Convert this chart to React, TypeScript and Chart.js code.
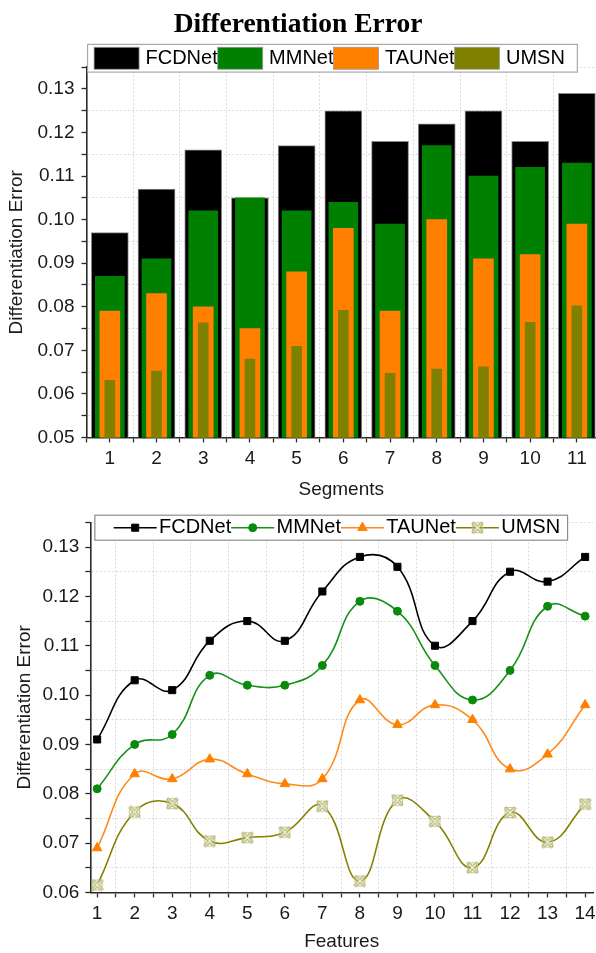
import React, { useEffect, useRef } from 'react';
import { Chart, registerables } from 'chart.js';
import { drawPoint } from 'chart.js/helpers';

Chart.register(...registerables);

// ---------- data: top chart (bars) ----------
const segments = [1, 2, 3, 4, 5, 6, 7, 8, 9, 10, 11];
const barFCDNet = [0.097, 0.107, 0.116, 0.105, 0.117, 0.125, 0.118, 0.122, 0.125, 0.118, 0.129];
const barMMNet = [0.087, 0.091, 0.102, 0.105, 0.102, 0.104, 0.099, 0.117, 0.110, 0.112, 0.113];
const barTAUNet = [0.079, 0.083, 0.080, 0.075, 0.088, 0.098, 0.079, 0.100, 0.091, 0.092, 0.099];
const barUMSN = [0.0631, 0.0652, 0.0763, 0.068, 0.0709, 0.0792, 0.0647, 0.0657, 0.0662, 0.0764, 0.0802];
const barYTicks = [0.05, 0.06, 0.07, 0.08, 0.09, 0.10, 0.11, 0.12, 0.13];

// ---------- data: bottom chart (lines) ----------
const features = [1, 2, 3, 4, 5, 6, 7, 8, 9, 10, 11, 12, 13, 14];
const lineFCDNet = [0.091, 0.103, 0.101, 0.111, 0.115, 0.111, 0.121, 0.128, 0.126, 0.110, 0.115, 0.125, 0.123, 0.128];
const lineMMNet = [0.081, 0.090, 0.092, 0.104, 0.102, 0.102, 0.106, 0.119, 0.117, 0.106, 0.099, 0.105, 0.118, 0.116];
const lineTAUNet = [0.069, 0.084, 0.083, 0.087, 0.084, 0.082, 0.083, 0.099, 0.094, 0.098, 0.095, 0.085, 0.088, 0.098];
const lineUMSN = [0.0615, 0.0763, 0.078, 0.0704, 0.0711, 0.0722, 0.0775, 0.0623, 0.0787, 0.0744, 0.065, 0.0762, 0.0702, 0.0779];
const lineYTicks = [0.06, 0.07, 0.08, 0.09, 0.10, 0.11, 0.12, 0.13];

const seriesNames = ['FCDNet', 'MMNet', 'TAUNet', 'UMSN'];

// ---------- styles ----------
const SANS = '"Liberation Sans", Arial, sans-serif';
const SERIF = '"Liberation Serif", "Times New Roman", serif';
const C_BLACK = '#000000';
const C_GREEN = '#008000';
const C_ORANGE = '#ff8000';
const C_OLIVE = '#808000';

function withMinorTicks(majors: number[], min: number, max: number) {
  const step = majors[1] - majors[0];
  const eps = 1e-9;
  const out: any[] = [];
  for (let i = -1; i < majors.length; i++) {
    const m = i >= 0 ? majors[i] : majors[0] - step;
    if (i >= 0 && m >= min - eps && m <= max + eps) out.push({ value: m, major: true });
    const h = +(m + step / 2).toFixed(6);
    if (h >= min - eps && h <= max + eps) out.push({ value: h, major: false });
  }
  return out;
}

function makeXMarker(): HTMLCanvasElement {
  const c = document.createElement('canvas');
  const s = 13;
  c.width = s;
  c.height = s;
  const g = c.getContext('2d') as CanvasRenderingContext2D;
  const m = 2.5;
  const X = () => {
    g.beginPath();
    g.moveTo(m, m);
    g.lineTo(s - m, s - m);
    g.moveTo(s - m, m);
    g.lineTo(m, s - m);
    g.stroke();
  };
  g.lineCap = 'round';
  g.strokeStyle = '#b2b26c';
  g.lineWidth = 3.8;
  X();
  g.strokeStyle = '#f2f2dc';
  g.lineWidth = 1.3;
  X();
  g.strokeStyle = '#c0c084';
  g.lineWidth = 1;
  g.beginPath();
  g.arc(s / 2, s / 2, 5.2, 0, Math.PI * 2);
  g.stroke();
  return c;
}

// Boxed legend drawn inside the chart, relative to the chart area
const boxLegend = {
  id: 'boxLegend',
  afterDraw(chart: any, _args: any, opts: any) {
    if (!opts || !opts.display) return;
    const { ctx, chartArea } = chart;
    ctx.save();
    ctx.font = opts.font;
    const items = chart.data.datasets.map((ds: any) => ({ ds, label: ds.label, tw: ctx.measureText(ds.label).width }));
    const x0 = chartArea.left + opts.offsetX;
    const y0 = chartArea.top + opts.offsetY;
    const total =
      opts.padLeft +
      items.reduce((s: number, it: any) => s + opts.sampleWidth + opts.textGap + it.tw, 0) +
      (items.length - 1) * opts.itemGap +
      opts.padRight;
    ctx.fillStyle = '#ffffff';
    ctx.fillRect(x0, y0, total, opts.height);
    ctx.strokeStyle = opts.borderColor;
    ctx.lineWidth = 1.2;
    ctx.strokeRect(x0 + 0.5, y0 + 0.5, total, opts.height);
    const cy = y0 + opts.height / 2 + 0.5;
    let x = x0 + opts.padLeft;
    items.forEach((it: any) => {
      const ds = it.ds;
      if (opts.kind === 'box') {
        ctx.fillStyle = ds.backgroundColor;
        ctx.fillRect(x, cy - opts.sampleHeight / 2, opts.sampleWidth, opts.sampleHeight);
        ctx.strokeStyle = '#9a9a9a';
        ctx.lineWidth = 0.8;
        ctx.strokeRect(x, cy - opts.sampleHeight / 2, opts.sampleWidth, opts.sampleHeight);
      } else {
        ctx.strokeStyle = ds.borderColor;
        ctx.lineWidth = ds.borderWidth;
        ctx.beginPath();
        ctx.moveTo(x, cy);
        ctx.lineTo(x + opts.sampleWidth, cy);
        ctx.stroke();
        ctx.fillStyle = ds.pointBackgroundColor;
        ctx.strokeStyle = ds.pointBorderColor;
        ctx.lineWidth = ds.pointBorderWidth;
        drawPoint(ctx, { pointStyle: ds.pointStyle, radius: ds.pointRadius, rotation: 0, borderWidth: ds.pointBorderWidth } as any, x + opts.sampleWidth / 2, cy);
      }
      x += opts.sampleWidth + opts.textGap;
      ctx.fillStyle = '#000000';
      ctx.textBaseline = 'middle';
      ctx.textAlign = 'left';
      ctx.fillText(it.label, x, cy);
      x += it.tw + opts.itemGap;
    });
    ctx.restore();
  },
};

function makeAxis(o: {
  min: number; max: number; majors: number[]; title: string; fmt: (v: number) => string;
  tickPad: number; titlePad: any; noSidePad?: boolean;
}) {
  return {
    type: 'linear',
    min: o.min,
    max: o.max,
    offset: false,
    afterBuildTicks: (scale: any) => {
      scale.ticks = withMinorTicks(o.majors, o.min, o.max);
    },
    afterFit: (scale: any) => {
      if (o.noSidePad) {
        scale.paddingRight = 0;
      }
    },
    ticks: {
      autoSkip: false,
      maxRotation: 0,
      minRotation: 0,
      padding: o.tickPad,
      color: '#1a1a1a',
      font: { family: SANS, size: 19 },
      callback: (v: number, i: number, ticks: any[]) => (ticks[i] && ticks[i].major ? o.fmt(v) : ''),
    },
    grid: {
      offset: false,
      color: (c: any) => (c.tick && c.tick.major ? 'rgba(0,0,0,0)' : '#d9d9d9'),
      lineWidth: 1,
      tickLength: 5,
      tickWidth: 1.3,
      tickColor: '#2a2a2a',
    },
    border: { display: true, color: '#2a2a2a', width: 1.6, dash: [2, 2] },
    title: {
      display: true,
      text: o.title,
      color: '#1a1a1a',
      font: { family: SANS, size: 19 },
      padding: o.titlePad,
    },
  };
}

function BarChart() {
  const ref = useRef<HTMLCanvasElement | null>(null);
  useEffect(() => {
    const cv = ref.current;
    if (!cv) return;
    const colors = [C_BLACK, C_GREEN, C_ORANGE, C_OLIVE];
    const values = [barFCDNet, barMMNet, barTAUNet, barUMSN];
    const thickness = [37, 29, 20, 10];
    const chart = new Chart(cv, {
      type: 'bar',
      data: {
        datasets: seriesNames.map((name, k) => ({
          label: name,
          data: segments.map((s, i) => ({ x: s, y: values[k][i] })),
          backgroundColor: colors[k],
          borderColor: k === 0 ? '#8a8a8a' : colors[k],
          borderWidth: k === 0 ? 1 : 0,
          barThickness: thickness[k],
          grouped: false,
          order: 4 - k,
        })) as any,
      },
      options: {
        responsive: false,
        animation: false,
        devicePixelRatio: 1,
        layout: { padding: { left: 0, right: 0, top: 0, bottom: 0 } },
        plugins: {
          legend: { display: false },
          tooltip: { enabled: false },
          title: {
            display: true,
            text: 'Differentiation Error',
            color: '#000000',
            font: { family: SERIF, size: 27.5, weight: 'bold' },
            padding: { top: 8.5, bottom: 25.7 },
          },
          boxLegend: {
            display: true,
            kind: 'box',
            font: `20px ${SANS}`,
            offsetX: 0.6,
            offsetY: -23.3,
            height: 27.7,
            padLeft: 7,
            padRight: 12,
            sampleWidth: 45,
            sampleHeight: 22,
            textGap: 6.4,
            itemGap: 0,
            borderColor: '#a8a8a8',
          },
        } as any,
        scales: {
          x: makeAxis({
            min: 0.5, max: 11.41, majors: segments, title: 'Segments',
            fmt: (v) => String(v), tickPad: 5, titlePad: { top: 3, bottom: 4 }, noSidePad: true,
          }),
          y: makeAxis({
            min: 0.05, max: 0.135, majors: barYTicks, title: 'Differentiation Error',
            fmt: (v) => v.toFixed(2), tickPad: 7, titlePad: { top: 5, bottom: 2.7 },
          }),
        } as any,
      },
      plugins: [boxLegend as any],
    });
    return () => chart.destroy();
  }, []);
  return <canvas ref={ref} width={596} height={505} style={{ display: 'block' }} />;
}

function LineChart() {
  const ref = useRef<HTMLCanvasElement | null>(null);
  useEffect(() => {
    const cv = ref.current;
    if (!cv) return;
    const xMarker = makeXMarker();
    const values = [lineFCDNet, lineMMNet, lineTAUNet, lineUMSN];
    const lineColors = ['#000000', '#17901a', '#ff8a1c', '#858000'];
    const pointFill = ['#000000', '#0a8a0a', '#ff8000', '#d0d0a0'];
    const styles: any[] = ['rect', 'circle', 'triangle', xMarker];
    const radii = [5, 4, 5.5, 6];
    const chart = new Chart(cv, {
      type: 'line',
      data: {
        datasets: seriesNames.map((name, k) => ({
          label: name,
          data: features.map((f, i) => ({ x: f, y: values[k][i] })),
          borderColor: lineColors[k],
          backgroundColor: pointFill[k],
          borderWidth: 1.6,
          tension: 0.45,
          fill: false,
          pointStyle: styles[k],
          pointRadius: radii[k],
          pointBackgroundColor: pointFill[k],
          pointBorderColor: pointFill[k],
          pointBorderWidth: 1,
        })) as any,
      },
      options: {
        responsive: false,
        animation: false,
        devicePixelRatio: 1,
        layout: { autoPadding: false, padding: { left: 0, right: 3, top: 17, bottom: 0 } },
        plugins: {
          legend: { display: false },
          tooltip: { enabled: false },
          boxLegend: {
            display: true,
            kind: 'line',
            font: `20px ${SANS}`,
            offsetX: 4,
            offsetY: -7.7,
            height: 25,
            padLeft: 19.3,
            padRight: 7,
            sampleWidth: 43,
            textGap: 2.3,
            itemGap: 0,
            borderColor: '#8c8c8c',
          },
        } as any,
        scales: {
          x: makeAxis({
            min: 0.82, max: 14.21, majors: features, title: 'Features',
            fmt: (v) => String(v), tickPad: 5, titlePad: { top: 0, bottom: 0 }, noSidePad: true,
          }),
          y: makeAxis({
            min: 0.06, max: 0.135, majors: lineYTicks, title: 'Differentiation Error',
            fmt: (v) => v.toFixed(2), tickPad: 6, titlePad: { top: 13, bottom: 0.6 },
          }),
        } as any,
      },
      plugins: [boxLegend as any],
    });
    return () => chart.destroy();
  }, []);
  return <canvas ref={ref} width={596} height={448} style={{ display: 'block' }} />;
}

export default function App() {
  return (
    <div style={{ position: 'absolute', left: 0, top: 0, width: 596, height: 953, overflow: 'hidden', background: '#ffffff' }}>
      <BarChart />
      <LineChart />
    </div>
  );
}
